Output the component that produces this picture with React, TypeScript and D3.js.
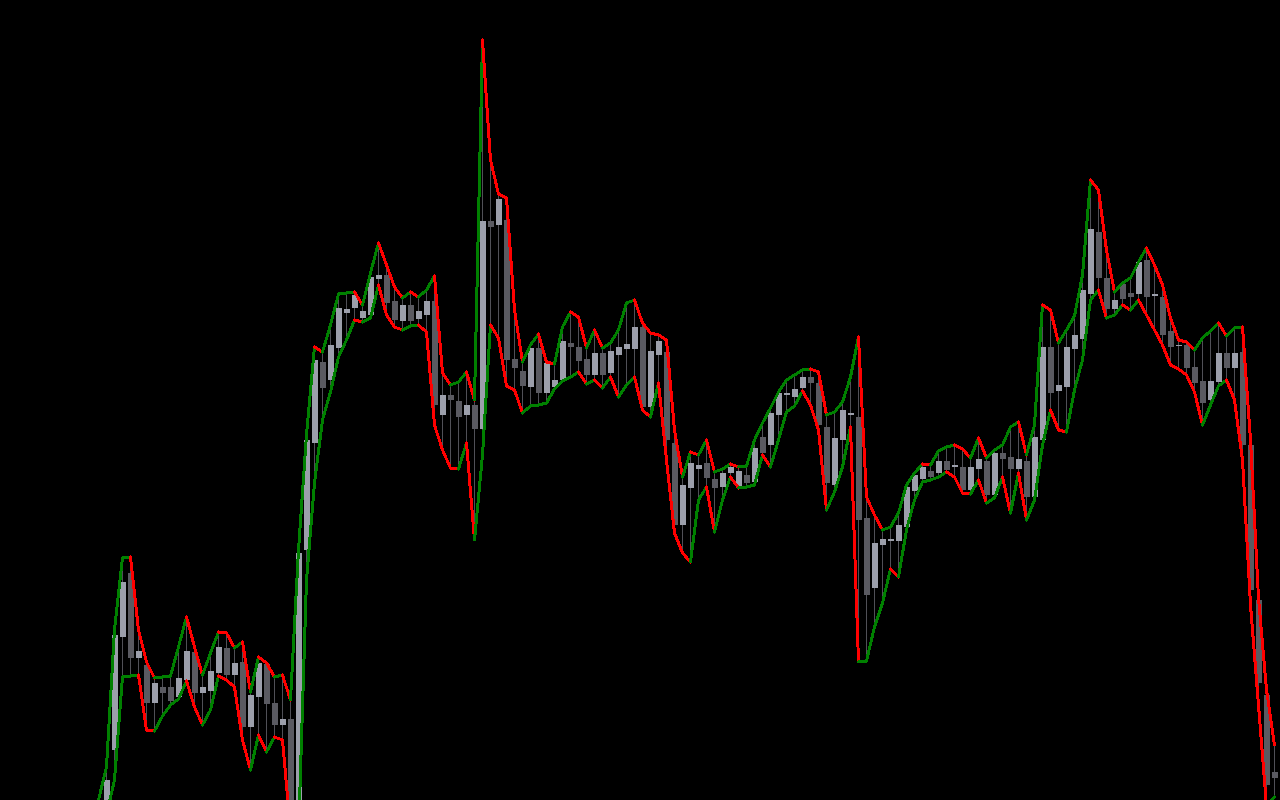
import { useEffect } from "react";
import * as d3 from "d3";

// bar prices (160 bars, oldest first). first 12 bars sit below the visible window
const open = [
  10.0, 12.0, 11.1, 12.2, 13.5, 12.6, 11.8, 13.6, 14.7, 13.4,
  15.3, 14.0, 17.0, 19.0, 25.0, 36.3, 42.7, 34.2, 33.5, 29.7,
  31.3, 31.3, 30.3, 32.0, 34.8, 30.7, 30.9, 32.7, 35.2, 32.5,
  33.8, 27.3, 30.3, 33.6, 29.7, 27.5, 28.1, 18.5, 45.0, 55.7,
  63.8, 62.0, 65.2, 68.7, 69.2, 68.2, 68.5, 72.1, 72.5, 69.9,
  67.9, 69.5, 68.1, 68.5, 69.9, 58.5, 60.5, 59.9, 58.5, 59.5,
  57.1, 77.9, 77.5, 78.0, 64.1, 62.9, 61.3, 65.2, 60.7, 61.3,
  62.0, 65.7, 65.3, 64.1, 62.5, 64.7, 62.7, 64.5, 65.1, 65.1,
  67.3, 59.3, 64.5, 64.8, 55.7, 47.5, 51.2, 53.1, 53.7, 52.1,
  51.3, 52.7, 51.3, 52.5, 51.8, 56.3, 55.5, 58.5, 60.5, 60.3,
  61.2, 62.3, 61.7, 57.3, 51.5, 56.0, 58.5, 58.3, 48.2, 41.2,
  45.5, 45.9, 45.9, 47.3, 50.9, 52.1, 52.9, 52.7, 53.9, 53.3,
  53.3, 51.0, 53.1, 53.9, 50.5, 54.7, 54.3, 53.1, 53.9, 50.3,
  56.0, 65.3, 60.9, 61.3, 65.1, 66.1, 70.6, 76.8, 72.2, 69.1,
  71.6, 70.7, 70.6, 74.0, 70.4, 70.3, 66.9, 65.4, 65.5, 63.3,
  61.9, 60.0, 61.8, 64.7, 63.2, 64.8, 55.5, 40.0, 30.5, 22.8,
];
const high = [
  13.0, 12.8, 12.5, 14.0, 14.1, 13.4, 13.9, 15.2, 15.0, 15.6,
  16.9, 18.5, 20.0, 23.3, 37.0, 44.2, 44.3, 37.0, 33.8, 32.2,
  32.3, 32.4, 35.3, 38.3, 35.3, 32.5, 34.7, 36.8, 36.7, 35.2,
  35.8, 30.8, 34.3, 33.7, 32.3, 32.5, 30.0, 45.0, 56.5, 65.3,
  64.8, 67.5, 70.6, 70.7, 70.8, 69.5, 72.7, 75.7, 73.5, 71.3,
  70.2, 70.8, 70.3, 71.0, 72.4, 62.7, 61.5, 61.8, 62.8, 60.0,
  96.0, 84.0, 80.6, 80.2, 69.0, 63.8, 65.5, 66.6, 63.8, 63.6,
  67.3, 68.8, 68.3, 65.2, 67.0, 65.2, 65.7, 67.0, 69.7, 70.0,
  67.7, 66.7, 66.5, 66.0, 57.0, 52.3, 54.8, 54.5, 56.0, 52.8,
  53.1, 53.6, 53.3, 53.4, 56.0, 57.7, 59.2, 60.8, 62.0, 62.5,
  63.0, 63.1, 62.8, 58.5, 58.8, 59.8, 62.3, 66.3, 50.3, 48.5,
  47.0, 47.3, 48.7, 51.5, 52.7, 53.6, 53.5, 54.9, 55.3, 55.5,
  55.1, 54.2, 56.2, 54.2, 55.0, 55.5, 57.3, 57.8, 54.5, 57.5,
  69.5, 69.0, 65.7, 67.0, 68.4, 72.5, 82.0, 81.0, 75.0, 70.8,
  71.7, 72.2, 73.8, 75.2, 73.5, 71.5, 68.2, 66.0, 65.8, 65.0,
  66.2, 66.9, 67.7, 66.4, 67.2, 67.3, 56.0, 40.2, 31.0, 25.5,
];
const low = [
  9.5, 10.4, 10.2, 11.6, 12.0, 11.2, 11.5, 13.0, 13.1, 13.2,
  14.8, 13.0, 16.0, 18.5, 22.0, 32.3, 32.4, 32.5, 27.0, 26.9,
  28.4, 29.5, 30.1, 31.9, 29.3, 27.5, 29.0, 32.4, 32.0, 31.3,
  26.0, 23.0, 26.5, 24.8, 26.3, 26.0, 17.0, 16.5, 42.0, 51.7,
  58.0, 60.8, 64.3, 66.0, 68.0, 67.8, 68.2, 71.5, 68.5, 67.3,
  67.0, 67.4, 67.5, 66.8, 57.5, 55.0, 53.2, 53.1, 55.7, 46.0,
  54.5, 67.5, 66.2, 61.4, 61.0, 58.7, 59.4, 59.5, 59.7, 61.1,
  61.9, 62.3, 62.8, 61.6, 62.0, 61.2, 62.3, 60.3, 61.5, 62.3,
  59.0, 58.3, 61.7, 54.0, 46.7, 44.7, 43.8, 50.0, 51.3, 46.8,
  50.0, 52.3, 51.2, 51.3, 51.5, 54.5, 53.3, 56.0, 58.8, 59.4,
  60.9, 59.5, 57.0, 49.0, 50.8, 53.3, 57.3, 33.8, 33.9, 37.3,
  39.7, 43.1, 42.3, 47.0, 50.0, 51.8, 52.0, 52.3, 52.8, 52.3,
  50.7, 50.6, 52.0, 49.7, 50.2, 52.3, 48.7, 52.7, 48.0, 50.0,
  55.5, 59.0, 57.0, 56.8, 61.0, 64.0, 70.0, 71.0, 68.2, 68.5,
  69.5, 69.0, 70.0, 68.5, 67.0, 65.5, 63.5, 63.1, 62.5, 60.8,
  57.5, 59.5, 61.4, 62.0, 60.0, 54.0, 39.5, 29.5, 19.4, 20.3,
];
const close = [
  12.0, 11.1, 12.2, 13.5, 12.6, 11.8, 13.6, 14.7, 13.4, 15.3,
  16.2, 17.0, 19.5, 22.0, 36.5, 41.8, 34.2, 34.9, 29.7, 31.7,
  30.7, 29.9, 32.2, 34.9, 30.7, 31.3, 32.9, 35.3, 32.5, 33.7,
  27.3, 30.5, 33.7, 29.6, 27.5, 28.1, 18.5, 44.7, 56.0, 64.0,
  61.2, 65.5, 69.2, 69.1, 70.5, 68.9, 72.3, 72.5, 69.7, 68.0,
  69.5, 67.9, 68.9, 69.9, 59.5, 60.5, 60.0, 58.3, 59.5, 57.1,
  77.9, 77.3, 80.1, 64.0, 63.2, 61.4, 65.2, 60.7, 63.7, 62.0,
  65.9, 65.3, 63.9, 62.5, 64.7, 62.5, 64.9, 65.3, 65.6, 67.3,
  59.3, 64.9, 65.9, 56.0, 47.5, 51.5, 53.7, 53.5, 52.2, 51.2,
  52.7, 53.3, 52.9, 51.7, 55.2, 54.7, 58.7, 60.7, 60.7, 61.1,
  62.3, 61.7, 57.5, 51.7, 56.2, 59.0, 58.7, 48.0, 40.5, 45.7,
  46.1, 46.1, 47.5, 51.3, 52.5, 53.3, 52.3, 53.9, 53.0, 53.5,
  51.0, 53.3, 54.1, 50.5, 54.7, 54.1, 53.1, 54.1, 50.3, 56.3,
  65.3, 60.7, 61.5, 65.3, 66.5, 71.0, 77.1, 72.2, 69.1, 70.0,
  70.1, 70.3, 73.8, 70.3, 70.6, 66.5, 65.3, 65.5, 63.2, 61.7,
  59.7, 61.9, 64.7, 63.2, 64.7, 55.5, 41.0, 31.7, 21.5, 22.2,
];
const bars = d3.range(open.length);

const width = 1280;
const height = 800;
const upBody = "#9c9fab";
const downBody = "#5a5a61";
const wickColor = "#505057";
const upLine = "#008000";
const downLine = "#ff0000";

export default function App() {
  useEffect(() => {
    document.body.style.margin = "0";
    document.body.style.background = "#000";
  }, []);

  const x = d3.scaleBand<number>().domain(bars).range([0, width]);
  const y = d3.scaleLinear().domain([20, 100]).range([height, 0]);
  const bw = x.bandwidth();
  const bodyW = bw * 0.75;
  const cx = (i: number) => (x(i) as number) + bodyW / 2 - 0.5;
  const line = d3.line<[number, number]>();

  // high / low envelopes, each segment coloured by its direction
  const segs = (vals: number[], key: string) =>
    d3.pairs(bars).map(([a, b]) => (
      <path
        key={key + a}
        d={line([[cx(a), y(vals[a])], [cx(b), y(vals[b])]]) as string}
        stroke={vals[b] >= vals[a] ? upLine : downLine}
        strokeWidth={3}
        strokeLinecap="round"
        fill="none"
        shapeRendering="crispEdges"
      />
    ));

  return (
    <div style={{ position: "fixed", left: 0, top: 0, width, height, background: "#000", overflow: "hidden" }}>
      <svg width={width} height={height} style={{ display: "block" }}>
        <rect width={width} height={height} fill="#000" />
        {bars.map((i) => {
          const up = close[i] >= open[i];
          const top = y(Math.max(open[i], close[i]));
          const bot = y(Math.min(open[i], close[i]));
          return (
            <g key={i} shapeRendering="crispEdges">
              <rect x={(x(i) as number) + 2} y={y(high[i])} width={1} height={y(low[i]) - y(high[i])} fill={wickColor} />
              <rect x={x(i)} y={top} width={bodyW} height={Math.max(1, bot - top)} fill={up ? upBody : downBody} />
            </g>
          );
        })}
        {segs(high, "h")}
        {segs(low, "l")}
      </svg>
    </div>
  );
}
